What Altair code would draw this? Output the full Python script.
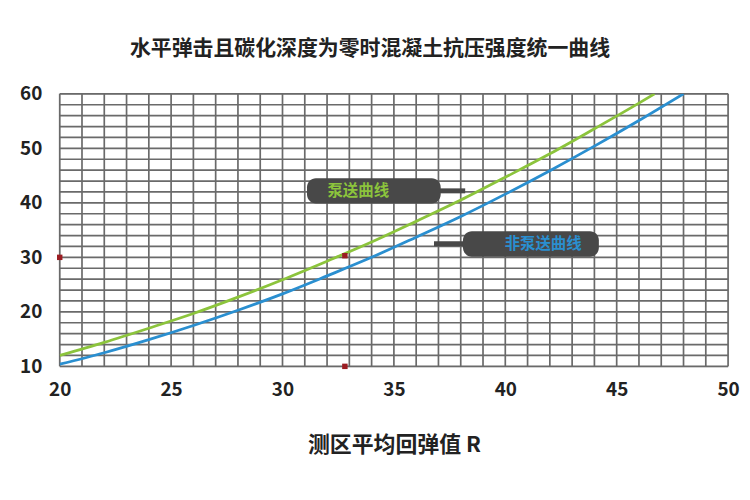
import altair as alt
import pandas as pd

# ---- data ----
R_pump = [20, 22, 24, 26, 28, 30, 32, 34, 36, 38, 40, 42, 44, 46, 46.7]
F_pump = [12.0, 14.4, 17.0, 19.7, 22.7, 25.9, 29.3, 32.8, 36.6, 40.5, 44.7, 49.0, 53.6, 58.3, 60.0]

R_nonpump = [20, 22, 24, 26, 28, 30, 32, 34, 36, 38, 40, 42, 44, 46, 48]
F_nonpump = [10.4, 12.5, 14.9, 17.5, 20.3, 23.3, 26.6, 30.0, 33.7, 37.5, 41.6, 45.9, 50.4, 55.1, 60.0]

marker_R = [20, 32.8, 32.8]
marker_F = [30.0, 30.3, 10.0]

callout_text = ["泵送曲线", "非泵送曲线"]
callout_color = ["#8cc43c", "#2a8fd0"]
callout_x = [31.1, 38.1]
callout_x2 = [37.1, 44.2]
callout_y = [39.9, 30.1]
callout_y2 = [44.5, 34.8]
neck_x = [37.0, 36.8]
neck_x2 = [38.2, 38.2]
neck_y = [42.2, 32.5]
label_x = [33.4, 41.7]

x_grid = list(range(20, 51))
y_grid = list(range(10, 61, 2))
x_labels = [20, 25, 30, 35, 40, 45, 50]
y_labels = [10, 20, 30, 40, 50, 60]

FONT = "Noto Sans CJK SC"

lines = pd.DataFrame({
    "R": R_pump + R_nonpump,
    "F": F_pump + F_nonpump,
    "series": ["泵送"] * len(R_pump) + ["非泵送"] * len(R_nonpump),
})
markers = pd.DataFrame({"R": marker_R, "F": marker_F})
callouts = pd.DataFrame({
    "text": callout_text, "color": callout_color,
    "x": callout_x, "x2": callout_x2, "y": callout_y, "y2": callout_y2,
    "nx": neck_x, "nx2": neck_x2, "ny": neck_y, "lx": label_x,
})
xg = pd.DataFrame({"R": x_grid})
yg = pd.DataFrame({"F": y_grid})

xscale = alt.Scale(domain=[20, 50], nice=False, zero=False)
yscale = alt.Scale(domain=[10, 60], nice=False, zero=False)

GRID = "#6a6a6a"

xaxis = alt.Axis(
    values=x_labels, grid=False, ticks=False, domain=False, labelOverlap=False,
    labelFont=FONT, labelFontSize=19, labelFontWeight="bold", labelColor="#222222",
    labelPadding=14, labelFlush=False,
    title="测区平均回弹值 R", titleFont=FONT, titleFontSize=22, titleFontWeight="bold",
    titleColor="#222222", titleY=79, titleBaseline="middle",
)
yaxis = alt.Axis(
    values=y_labels, grid=False, ticks=False, domain=False, labelOverlap=False,
    labelFont=FONT, labelFontSize=19, labelFontWeight="bold", labelColor="#222222",
    labelPadding=18, labelFlush=False, title=None,
)

vgrid = alt.Chart(xg).mark_rule(color=GRID, strokeWidth=1.7).encode(
    x=alt.X("R:Q", scale=xscale, axis=xaxis),
    y=alt.value(0), y2=alt.value(274),
)
hgrid = alt.Chart(yg).mark_rule(color=GRID, strokeWidth=1.7).encode(
    y=alt.Y("F:Q", scale=yscale, axis=yaxis),
    x=alt.value(0), x2=alt.value(672),
)

line_layer = alt.Chart(lines).mark_line(strokeWidth=2.8, interpolate="monotone", clip=True).encode(
    x=alt.X("R:Q", scale=xscale),
    y=alt.Y("F:Q", scale=yscale),
    color=alt.Color("series:N", scale=alt.Scale(domain=["泵送", "非泵送"], range=["#8cc43c", "#2a8fd0"]), legend=None),
    detail="series:N",
)

marker_layer = alt.Chart(markers).mark_square(size=30, color="#9b1c22", opacity=1).encode(
    x=alt.X("R:Q", scale=xscale), y=alt.Y("F:Q", scale=yscale)
)

neck_layer = alt.Chart(callouts).mark_rule(color="#484848", strokeWidth=5).encode(
    x=alt.X("nx:Q", scale=xscale), x2="nx2:Q", y=alt.Y("ny:Q", scale=yscale)
)
body_layer = alt.Chart(callouts).mark_rect(color="#484848", cornerRadius=9).encode(
    x=alt.X("x:Q", scale=xscale), x2="x2:Q",
    y=alt.Y("y:Q", scale=yscale), y2="y2:Q",
)
text_layer = alt.Chart(callouts).mark_text(font=FONT, fontSize=15.5, fontWeight="bold", baseline="middle").encode(
    x=alt.X("lx:Q", scale=xscale), y=alt.Y("ny:Q", scale=yscale),
    text="text:N", color=alt.Color("color:N", scale=None),
)

chart = alt.layer(vgrid, hgrid, line_layer, marker_layer, neck_layer, body_layer, text_layer).properties(
    width=672, height=274,
    autosize=alt.AutoSizeParams(type="none"),
    padding={"left": 52, "top": 85, "right": 14, "bottom": 120},
    title=alt.TitleParams(
        "水平弹击且碳化深度为零时混凝土抗压强度统一曲线",
        font=FONT, fontSize=21, fontWeight="bold", color="#222222",
        anchor="middle", dx=-24, offset=26,
    ),
).configure_view(stroke=None).configure(background="white")

chart.save("out.html", embed_options={"renderer": "svg", "actions": False})
